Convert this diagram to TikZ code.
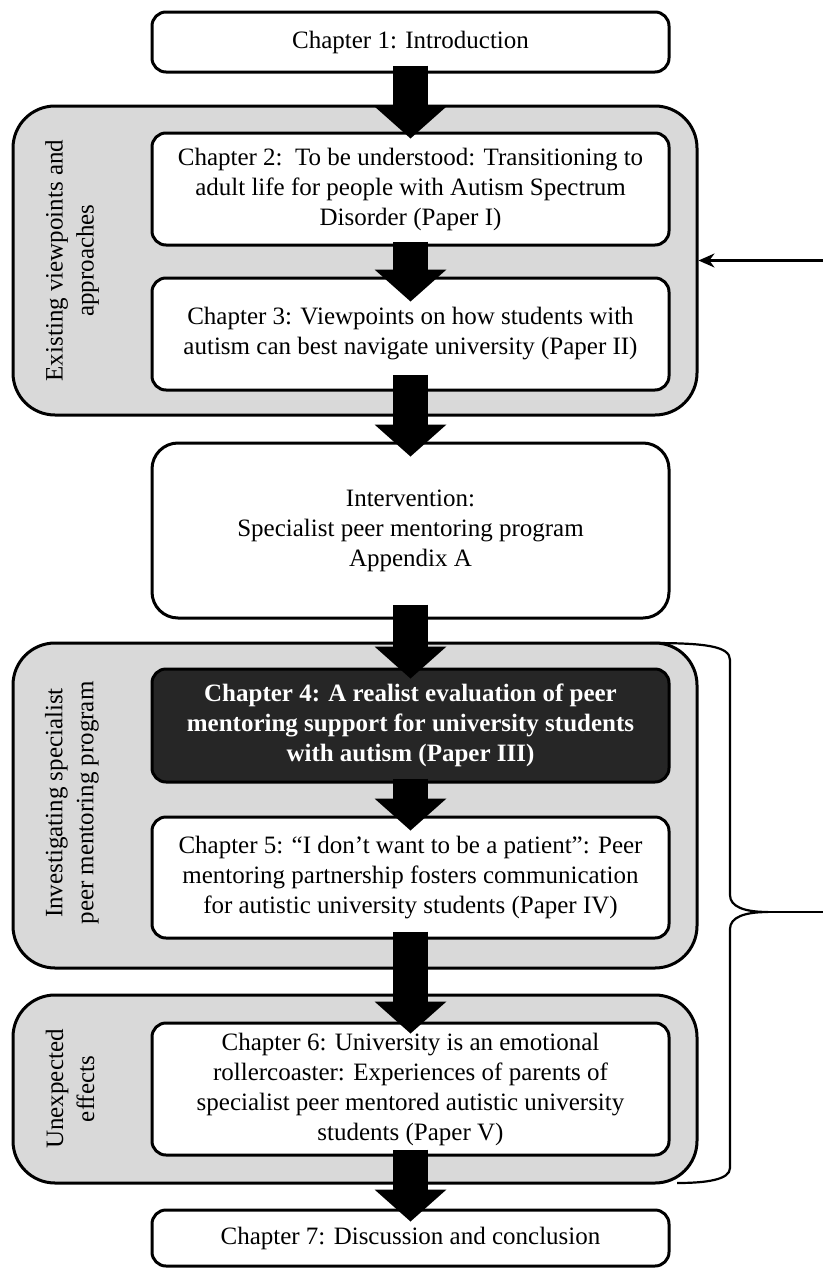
\documentclass[tikz,border=0pt]{standalone}
\usepackage{fontspec}
\setmainfont{Liberation Serif}
\usetikzlibrary{arrows.meta,calc}

\definecolor{groupgrey}{RGB}{217,217,217}
\definecolor{darkbox}{RGB}{38,38,38}

\begin{document}
\begin{tikzpicture}[x=0.5pt,y=-0.5pt,
  every node/.style={font=\fontsize{12.5}{15}\selectfont},
  chapter/.style={draw=black, line width=1.5pt, fill=white, rounded corners=7pt,
    minimum width=258.5pt, align=center, inner sep=2pt},
  highlight/.style={chapter, fill=darkbox, text=white,
    font=\fontsize{12.5}{15}\selectfont\bfseries},
  group/.style={draw=black, line width=1.5pt, fill=groupgrey, rounded corners=21pt,
    minimum width=342pt, inner sep=0pt},
  grouplabel/.style={rotate=90, align=center, font=\fontsize{12.5}{15.5}\selectfont},
  flow/.style={line width=17.5pt, -{Triangle[width=36pt,length=16pt,line width=0pt]}},
  thinarrow/.style={line width=1.2pt, -{Stealth[length=8pt,width=7pt]}},
  bracket/.style={line width=1.1pt},
]
\useasboundingbox (0,0) rectangle (823,1269);

% thematic groups
\node[group, minimum height=154.5pt] (g1) at (355,260.5) {};
\node[group, minimum height=162.5pt] (g2) at (355,805.5) {};
\node[group, minimum height=94pt]    (g3) at (355,1089) {};

\node[grouplabel] (l1) at (72,260.5) {Existing viewpoints and\\approaches};
\node[grouplabel] (l2) at (72,803) {Investigating specialist\\peer mentoring program};
\node[grouplabel] (l3) at (70,1089) {Unexpected\\effects};

% chapters
\node[chapter, minimum height=30pt] (ch1) at (410.5,42) {Chapter 1: Introduction};
\node[chapter, minimum height=56pt] (ch2) at (410.5,189)
  {Chapter 2:\ \ To be understood: Transitioning to\\adult life for people with Autism Spectrum\\Disorder (Paper I)};
\node[chapter, minimum height=56pt] (ch3) at (410.5,334)
  {Chapter 3: Viewpoints on how students with\\autism can best navigate university (Paper II)};
\node[chapter, minimum height=87.5pt, rounded corners=13pt] (int) at (410.5,530.5)
  {Intervention:\\Specialist peer mentoring program\\Appendix A};
\node[highlight, minimum height=56.5pt] (ch4) at (410.5,725.5)
  {Chapter 4: A realist evaluation of peer\\mentoring support for university students\\with autism (Paper III)};
\node[chapter, minimum height=60.5pt] (ch5) at (410.5,877.5)
  {Chapter 5: “I don’t want to be a patient”: Peer\\mentoring partnership fosters communication\\for autistic university students (Paper IV)};
\node[chapter, minimum height=66pt] (ch6) at (410.5,1089)
  {Chapter 6: University is an emotional\\rollercoaster: Experiences of parents of\\specialist peer mentored autistic university\\students (Paper V)};
\node[chapter, minimum height=28pt] (ch7) at (410.5,1238)
  {Chapter 7: Discussion and conclusion};

% flow between chapters
\draw[flow] ([yshift=4pt]ch1.south)   -- ([yshift=-3.5pt]ch2.north);
\draw[flow] ([yshift=2.5pt]ch2.south) -- ([yshift=-12.5pt]ch3.north);
\draw[flow] ([yshift=8.5pt]ch3.south) -- ([yshift=-7.5pt]int.north);
\draw[flow] ([yshift=7.5pt]int.south) -- ([yshift=-5.5pt]ch4.north);
\draw[flow] ([yshift=2.5pt]ch4.south) -- ([yshift=-7.5pt]ch5.north);
\draw[flow] ([yshift=4pt]ch5.south)   -- ([yshift=-6pt]ch6.north);
\draw[flow] ([yshift=3.5pt]ch6.south) -- ([yshift=-6.5pt]ch7.north);

% feedback into the first group
\coordinate (feed) at (823,260.5);
\draw[thinarrow] (feed) -- (g1.east);

% brace spanning the intervention studies
\coordinate (bt) at (650,643);
\coordinate (bb) at (677,1183);
\coordinate (tip) at (768,912);
\coordinate (out) at (823,912);
\draw[bracket] (bt) .. controls (705,643) and (730,646) .. (730,660)
  -- (730,895) .. controls (730,907) and (745,912) .. (tip)
  .. controls (745,912) and (730,917) .. (730,929)
  -- (730,1168) .. controls (730,1180) and (705,1183) .. (bb);
\draw[bracket] (tip) -- (out);
\end{tikzpicture}
\end{document}
